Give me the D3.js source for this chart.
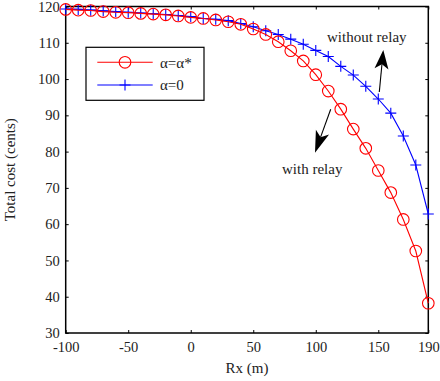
<!DOCTYPE html>
<html>
<head>
<meta charset="utf-8">
<script src="https://cdn.jsdelivr.net/npm/d3@7"></script>
<style>
  body { margin: 0; background: #fff; }
  svg text { font-family: "Liberation Serif", "Times New Roman", serif; fill: #222; }
</style>
</head>
<body>
<script>
// distance Rx (m), one marker every 10 m
const rx = d3.range(-100, 191, 10);
// total cost with relay (alpha = alpha*)
const costRelay = [119.2, 119.0, 118.9, 118.6, 118.4, 118.3, 118.1, 117.9, 117.7, 117.4,
                   117.0, 116.7, 116.3, 115.8, 115.1, 113.8, 112.3, 110.3, 107.8, 105.0,
                   101.2, 96.7, 91.7, 86.2, 80.9, 74.8, 68.7, 61.3, 52.6, 38.2];
// total cost without relay (alpha = 0)
const costNoRelay = [119.3, 119.2, 119.0, 118.8, 118.6, 118.4, 118.2, 118.0, 117.8, 117.5,
                     117.2, 116.7, 116.5, 116.1, 115.3, 114.4, 113.3, 112.3, 111.0, 109.6,
                     107.9, 106.2, 103.5, 101.1, 98.0, 94.5, 90.6, 84.3, 76.3, 62.8];
const xTicks = [-100, -50, 0, 50, 100, 150, 190];
const yTicks = [30, 40, 50, 60, 70, 80, 90, 100, 110, 120];
const seriesNames = ["\u03b1=\u03b1*", "\u03b1=0"];

const margin = {top: 6.5, right: 11.7, bottom: 48, left: 65.7},
    W = 440, H = 381,
    width = W - margin.left - margin.right,
    height = H - margin.top - margin.bottom;

const svg = d3.select("body").append("svg")
    .attr("width", W).attr("height", H)
  .append("g")
    .attr("transform", `translate(${margin.left},${margin.top})`);

const x = d3.scaleLinear().domain([-100, 190]).range([0, width]);
const y = d3.scaleLinear().domain([30, 120]).range([height, 0]);

// axes, ticks pointing inwards
svg.append("g").attr("transform", `translate(0,${height})`)
  .call(d3.axisBottom(x).tickValues(xTicks).tickSize(-3).tickPadding(9).tickFormat(d => String(d)));
svg.append("g")
  .call(d3.axisLeft(y).tickValues(yTicks).tickSize(-3).tickPadding(6));
svg.append("g")
  .call(d3.axisTop(x).tickValues(xTicks).tickSize(-3).tickFormat(""));
svg.append("g").attr("transform", `translate(${width},0)`)
  .call(d3.axisRight(y).tickValues(yTicks).tickSize(-3).tickFormat(""));
svg.selectAll(".domain").remove();
svg.selectAll(".tick line").attr("stroke", "#000");
svg.selectAll(".tick text").attr("font-size", 14.5).attr("fill", "#222");

svg.append("rect")
  .attr("width", width).attr("height", height)
  .attr("fill", "none").attr("stroke", "#000").attr("stroke-width", 1.5);

// axis titles
svg.append("text")
  .attr("x", width / 2).attr("y", height + 40)
  .attr("text-anchor", "middle").attr("font-size", 15)
  .text("Rx (m)");
svg.append("text")
  .attr("transform", `translate(${-51},${height / 2}) rotate(-90)`)
  .attr("text-anchor", "middle").attr("font-size", 15)
  .text("Total cost (cents)");

const line = d3.line().x(d => x(d[0])).y(d => y(d[1]));
const relayPts = rx.map((d, i) => [d, costRelay[i]]);
const noRelayPts = rx.map((d, i) => [d, costNoRelay[i]]);

function plusPath(cx, cy, s) {
  return `M${cx - s},${cy}H${cx + s}M${cx},${cy - s}V${cy + s}`;
}

// blue series
svg.append("path").datum(noRelayPts)
  .attr("d", line).attr("fill", "none").attr("stroke", "#0000ff").attr("stroke-width", 1.1);
svg.selectAll(".plus").data(noRelayPts).enter().append("path")
  .attr("class", "plus")
  .attr("d", d => plusPath(x(d[0]), y(d[1]), 5.5))
  .attr("stroke", "#0000ff").attr("stroke-width", 1.1).attr("fill", "none");

// red series
svg.append("path").datum(relayPts)
  .attr("d", line).attr("fill", "none").attr("stroke", "#ff0000").attr("stroke-width", 1.1);
svg.selectAll(".circ").data(relayPts).enter().append("circle")
  .attr("class", "circ")
  .attr("cx", d => x(d[0])).attr("cy", d => y(d[1])).attr("r", 5.8)
  .attr("fill", "none").attr("stroke", "#ff0000").attr("stroke-width", 1.1);

// legend
const lg = svg.append("g").attr("transform", `translate(${86 - margin.left},${47.3 - margin.top})`);
lg.append("rect").attr("width", 118).attr("height", 53)
  .attr("fill", "#fff").attr("stroke", "#000").attr("stroke-width", 1.2);
[["#ff0000", 15], ["#0000ff", 37.7]].forEach(([c, yy], i) => {
  lg.append("line").attr("x1", 11.3).attr("x2", 66.7).attr("y1", yy).attr("y2", yy)
    .attr("stroke", c).attr("stroke-width", 1.1);
  if (i === 0) {
    lg.append("circle").attr("cx", 39).attr("cy", yy).attr("r", 5.8)
      .attr("fill", "none").attr("stroke", c).attr("stroke-width", 1.1);
  } else {
    lg.append("path").attr("d", plusPath(39, yy, 5.5)).attr("stroke", c).attr("stroke-width", 1.1);
  }
  lg.append("text").attr("x", 74).attr("y", yy).attr("dy", "0.35em")
    .attr("font-size", 15).text(seriesNames[i]);
});

// annotation arrows
function arrow(x0, y0, x1, y1, len, half) {
  const dx = x1 - x0, dy = y1 - y0, L = Math.hypot(dx, dy);
  const ux = dx / L, uy = dy / L, nx = -uy, ny = ux;
  const bx = x1 - ux * len, by = y1 - uy * len;
  const nbx = x1 - ux * len * 0.75, nby = y1 - uy * len * 0.75;
  const g = svg.append("g");
  g.append("line").attr("x1", x0 - margin.left).attr("y1", y0 - margin.top)
    .attr("x2", nbx - margin.left).attr("y2", nby - margin.top)
    .attr("stroke", "#000").attr("stroke-width", 1.1);
  const pts = [[x1, y1], [bx + nx * half, by + ny * half], [nbx, nby], [bx - nx * half, by - ny * half]];
  g.append("path")
    .attr("d", "M" + pts.map(p => [p[0] - margin.left, p[1] - margin.top].join(",")).join("L") + "Z")
    .attr("fill", "#000");
}
arrow(379.3, 92, 383.3, 50, 19, 7);
arrow(330.7, 109.3, 315, 152.7, 22, 7);

svg.append("text").attr("x", 327 - margin.left).attr("y", 42 - margin.top)
  .attr("font-size", 15).text("without relay");
svg.append("text").attr("x", 282 - margin.left).attr("y", 173.5 - margin.top)
  .attr("font-size", 15).text("with relay");
</script>
</body>
</html>
